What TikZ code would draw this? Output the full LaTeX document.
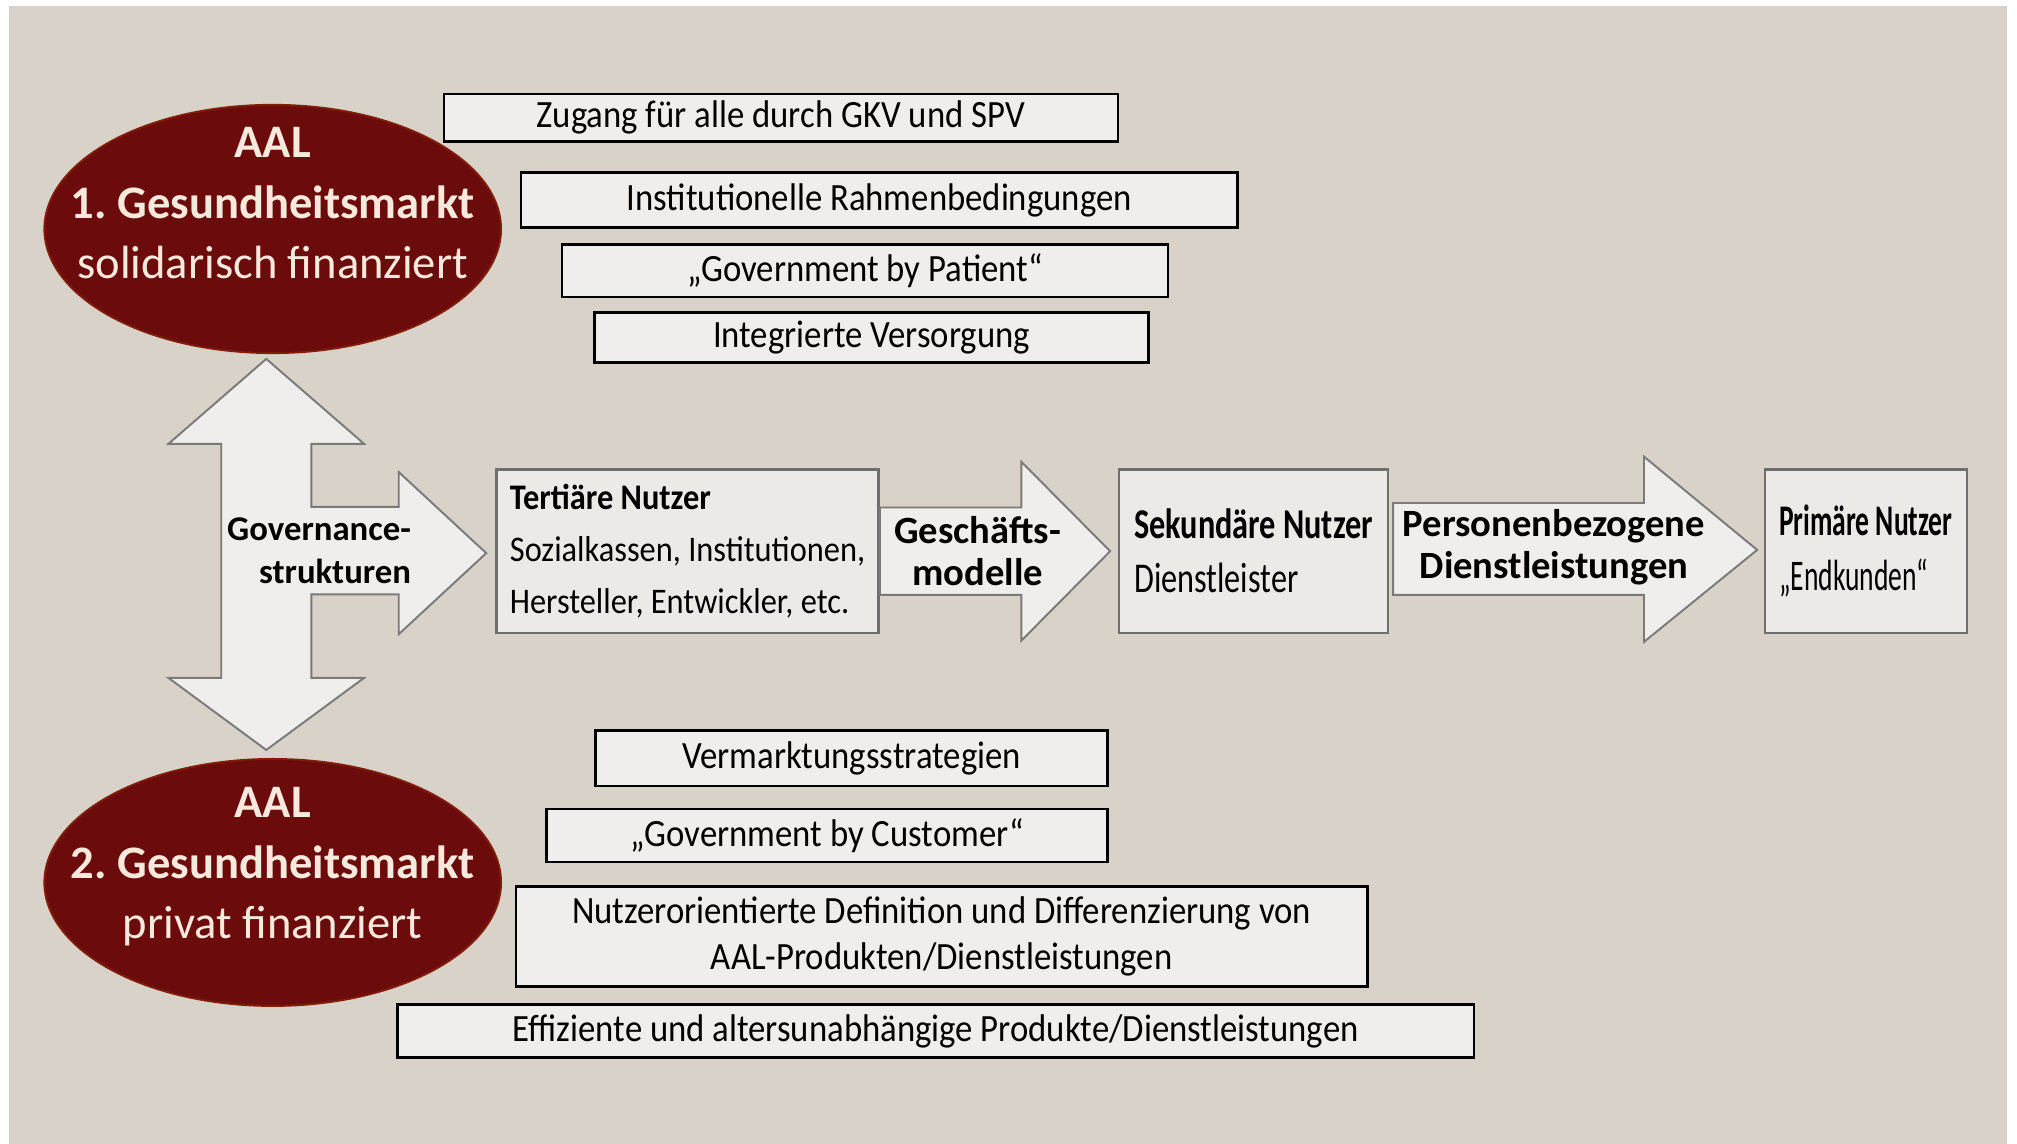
\documentclass[tikz,border=0pt]{standalone}
\usepackage{fontspec}
\setmainfont{Carlito}
\newfontfamily\narrowfont{Carlito}[FakeStretch=0.9]
\newfontfamily\sekfont{Carlito}[FakeStretch=0.76]
\newfontfamily\primfont{Carlito}[FakeStretch=0.63]
\frenchspacing
\usepackage{xcolor}
\usetikzlibrary{positioning,
shapes.geometric,
calc}

\definecolor{canvas}{HTML}{D9D2C9}
\definecolor{aalred}{HTML}{6B0B0B}
\definecolor{aaltext}{HTML}{F7E9DC}
\definecolor{barfill}{HTML}{EFEEEC}
\definecolor{boxfill}{HTML}{ECEAE7}
\definecolor{boxline}{HTML}{6E6E6E}
\definecolor{arrowline}{HTML}{7A7A7A}

\begin{document}
\begin{tikzpicture}[
    x=1pt, y=-1pt,
    marketnode/.style={
        ellipse,
        fill=aalred,
        draw=aalred!85!orange,
        line width=1.5pt,
        minimum width=355pt,
        minimum height=193pt,
        inner sep=0pt
    },
    markettext/.style={
        align=center,
        text=aaltext,
        font=\fontsize{36.2}{47}\selectfont
    },
    barbox/.style={
        draw=black,
        line width=2pt,
        fill=barfill,
        inner sep=0pt,
        align=center,
        font=\narrowfont\fontsize{30}{36}\selectfont
    },
    userbox/.style={
        draw=boxline,
        line width=2pt,
        fill=boxfill,
        minimum height=127pt,
        inner sep=0pt,
        align=left,
        font=\narrowfont\fontsize{28}{40.5}\selectfont
    },
    blockarrow/.style={
        draw=arrowline,
        line width=1.5pt,
        fill=barfill
    },
    arrowtext/.style={
        align=center,
        font=\bfseries\fontsize{30}{33}\selectfont
    }
]

\useasboundingbox (0,0) rectangle (1568,889);
\fill[white] (0,0) rectangle (1568,889);
\fill[canvas] (7,5) rectangle (1560,889);

%-------------------------------------------------
% Markets
%-------------------------------------------------

\node[marketnode] (aal1) at (212,178) {};
\node[markettext] (aal1text) at ($(aal1)+(0,-20)$)
{\textbf{AAL}\\\textbf{1. Gesundheitsmarkt}\\solidarisch finanziert};

\node[marketnode,minimum height=192pt] (aal2) at (212,686) {};
\node[markettext] (aal2text) at ($(aal2)+(0,-12)$)
{\textbf{AAL}\\\textbf{2. Gesundheitsmarkt}\\privat finanziert};

%-------------------------------------------------
% Conditions of the first market
%-------------------------------------------------

\node[barbox,minimum width=524pt,minimum height=37pt] (zugang) at (607,91.5)
{Zugang für alle durch GKV und SPV};
\node[barbox,minimum width=557pt,minimum height=43pt] (rahmen) at (683.5,155.5)
{Institutionelle Rahmenbedingungen};
\node[barbox,minimum width=471pt,minimum height=41pt] (patient) at (672.5,210.5)
{„Government by Patient“};
\node[barbox,minimum width=431pt,minimum height=39pt] (versorgung) at (677.5,262.5)
{Integrierte Versorgung};

%-------------------------------------------------
% Users and services
%-------------------------------------------------

\node[userbox,minimum width=297pt] (tert) at (534.5,428.5)
{\textbf{Tertiäre Nutzer}\\Sozialkassen, Institutionen,\\Hersteller, Entwickler, etc.};
\node[userbox,minimum width=209pt,right=185pt of tert,
font=\sekfont\fontsize{33}{42}\selectfont] (sek)
{\textbf{Sekundäre Nutzer}\\Dienstleister};
\node[userbox,minimum width=157pt,right=291pt of sek,
font=\primfont\fontsize{34}{43}\selectfont] (prim)
{\textbf{Primäre Nutzer}\\„Endkunden“};

\coordinate (gov) at (207,430);
\draw[blockarrow,shift={(gov)}]
(0,-151) -- (76,-85) -- (35,-85) -- (35,-36) -- (103,-36) -- (103,-63)
-- (171,0) -- (103,63) -- (103,32) -- (35,32) -- (35,97) -- (76,97)
-- (0,153) -- (-76,97) -- (-35,97) -- (-35,-85) -- (-76,-85) -- cycle;
\node[arrowtext,align=right,anchor=east,font=\bfseries\fontsize{27}{33}\selectfont]
(govtext) at ($(gov)+(116,-2)$) {Governance-\\strukturen};

\draw[blockarrow]
($(tert.east)+(0,-34)$) -- ++(110,0) -- ++(0,-35.5)
-- ($(sek.west)+(-6,0)$)
-- ($(tert.east)+(110,69.5)$) -- ++(0,-35.5)
-- ($(tert.east)+(0,34)$) -- cycle;
\node[arrowtext] (geschaeft) at ($(tert.east)+(76,0)$) {Geschäfts-\\modelle};

\draw[blockarrow]
($(sek.east)+(3,-37.5)$) -- ++(195,0) -- ++(0,-36)
-- ($(prim.west)+(-5,-1)$)
-- ($(sek.east)+(198,70.5)$) -- ++(0,-36.5)
-- ($(sek.east)+(3,34)$) -- cycle;
\node[arrowtext] (dienst) at ($(sek.east)+(128,-3)$)
{Personenbezogene\\Dienstleistungen};

%-------------------------------------------------
% Conditions of the second market
%-------------------------------------------------

\node[barbox,minimum width=398pt,minimum height=43pt] (vermarktung) at (662,589.5)
{Vermarktungsstrategien};
\node[barbox,minimum width=436pt,minimum height=41pt] (customer) at (643,649.5)
{„Government by Customer“};
\node[barbox,minimum width=662pt,minimum height=78pt] (definition) at (732,728)
{Nutzerorientierte Definition und Differenzierung von\\AAL-Produkten/Dienstleistungen};
\node[barbox,minimum width=837pt,minimum height=41pt] (effizient) at (727.5,801.5)
{Effiziente und altersunabhängige Produkte/Dienstleistungen};

\end{tikzpicture}
\end{document}
